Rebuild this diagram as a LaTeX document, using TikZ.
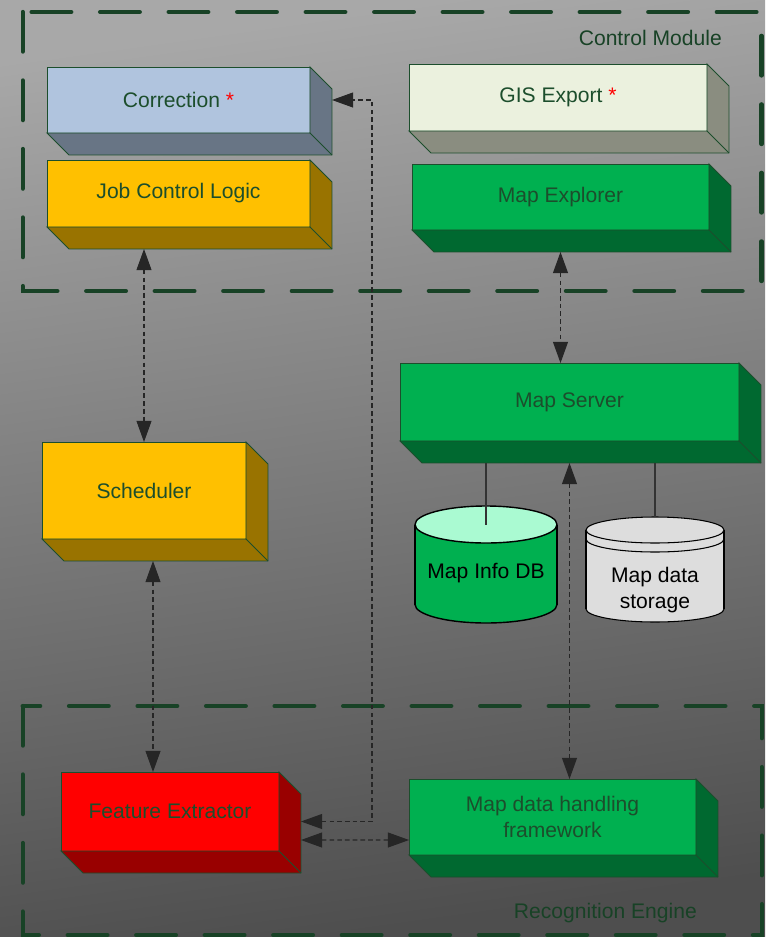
\documentclass[tikz,border=0pt]{standalone}
\usepackage{fontspec}
\setmainfont{Liberation Sans}
\usetikzlibrary{positioning, arrows.meta}

\definecolor{ink}{RGB}{28,78,44}
\definecolor{framegreen}{RGB}{24,66,38}
\definecolor{bgtop}{RGB}{168,168,168}
\definecolor{bgmid}{RGB}{148,148,148}
\definecolor{bgbot}{RGB}{78,78,78}
\definecolor{steelfront}{RGB}{176,196,222}
\definecolor{steelside}{RGB}{104,117,133}
\definecolor{paperfront}{RGB}{235,241,222}
\definecolor{paperside}{RGB}{138,141,128}
\definecolor{amberfront}{RGB}{255,192,0}
\definecolor{amberside}{RGB}{153,115,0}
\definecolor{leaffront}{RGB}{0,176,80}
\definecolor{leafside}{RGB}{0,105,48}
\definecolor{firefront}{RGB}{255,0,0}
\definecolor{fireside}{RGB}{153,0,0}
\definecolor{dbtop}{RGB}{170,250,210}
\definecolor{diskgray}{RGB}{221,221,221}

% bottom and right faces of a block
\newcommand{\extrude}[2]{%
  \draw[faceedge, fill=#2] (#1.south west) -- ([shift={(22,22)}]#1.south west)
    -- ([shift={(22,22)}]#1.south east) -- ([shift={(22,22)}]#1.north east)
    -- (#1.north east) -- (#1.south east) -- cycle;
  \draw[faceedge] (#1.south east) -- ([shift={(22,22)}]#1.south east);
  \coordinate (#1 bottom) at ([shift={(22,22)}]#1.south);
}

\begin{document}
\begin{tikzpicture}[x=0.02cm, y=-0.02cm,
    faceedge/.style={draw=ink, line width=0.5pt},
    block/.style={draw=ink, line width=0.5pt, inner sep=2pt, outer sep=0pt,
      text=ink, align=center, font=\fontsize{12}{14.4}\selectfont},
    tag/.style={text=framegreen, font=\fontsize{12}{14.4}\selectfont},
    disktext/.style={text=black, align=center, font=\fontsize{12}{14.4}\selectfont},
    module/.style={draw=framegreen, line width=2.5pt, line cap=round,
      dash pattern=on 22.5pt off 16.5pt},
    link/.style={<->, >={Triangle[length=12pt, width=8.5pt]}, draw=black!85,
      line width=0.6pt, dash pattern=on 2.6pt off 1.8pt},
    wire/.style={draw=black!80, line width=0.6pt}]

	\shade[top color=bgtop, middle color=bgmid, bottom color=bgbot, shading angle=8] (0,0) rectangle (765,937);
	\useasboundingbox (0,0) rectangle (765,937);

	% modules
	\draw[module] (22.7,12) rectangle (761.5,291);
	\draw[module] (22.7,706) rectangle (761.7,935);
	\node[tag, anchor=east] (ctrl) at (728,38) {Control Module};
	\node[tag, anchor=east] (recog) at (703,913) {Recognition Engine};

	% blocks
	\node[block, fill=steelfront, minimum width=5.26cm, minimum height=1.32cm] (corr) at (178.5,100) {Correction \textcolor{red}{*}};
	\node[block, fill=amberfront, minimum width=5.26cm, minimum height=1.34cm, below=0.54cm of corr] (jcl) {Job Control Logic};
	\node[block, fill=paperfront, minimum width=5.96cm, minimum height=1.34cm] (gis) at (558,97.5) {GIS Export \textcolor{red}{*}};
	\node[block, fill=leaffront, minimum width=5.94cm, minimum height=1.32cm, below=0.66cm of gis, xshift=0.05cm] (mapexp) {Map Explorer};
	\node[block, fill=leaffront, minimum width=6.78cm, minimum height=1.56cm] (mapsrv) at (569.5,402) {Map Server};
	\node[block, fill=amberfront, minimum width=4.08cm, minimum height=1.94cm] (sched) at (144,490.5) {Scheduler};
	\node[block, fill=firefront, minimum width=4.36cm, minimum height=1.58cm] (feat) at (170,811.5) {Feature Extractor};
	\node[block, fill=leaffront, minimum width=5.74cm, minimum height=1.52cm] (mdhf) at (552.5,817) {Map data handling\\framework};

	\extrude{corr}{steelside}
	\extrude{jcl}{amberside}
	\extrude{gis}{paperside}
	\extrude{mapexp}{leafside}
	\extrude{mapsrv}{leafside}
	\extrude{sched}{amberside}
	\extrude{feat}{fireside}
	\extrude{mdhf}{leafside}

	% Map Info DB
	\draw[line width=0.8pt, fill=leaffront] (486,604.5) ellipse [x radius=1.42cm, y radius=0.37cm];
	\fill[leaffront] (415,524.5) rectangle (557,604.5);
	\draw[line width=0.8pt] (415,524.5) -- (415,604.5) (557,524.5) -- (557,604.5);
	\draw[line width=0.8pt, fill=dbtop] (486,524.5) ellipse [x radius=1.42cm, y radius=0.37cm];
	\coordinate (db top) at (486,524.5);
	\node[disktext] (db) at (486,573) {Map Info DB};

	% Map data storage
	\draw[line width=0.6pt, fill=diskgray] (655,609) ellipse [x radius=1.38cm, y radius=0.26cm];
	\fill[diskgray] (586,530) rectangle (724,609);
	\draw[line width=0.6pt] (586,530) -- (586,609) (724,530) -- (724,609);
	\draw[line width=0.6pt, fill=diskgray] (655,530) ellipse [x radius=1.38cm, y radius=0.26cm];
	\draw[line width=0.6pt] (586,539) arc[start angle=180, end angle=360, x radius=1.38cm, y radius=0.26cm];
	\coordinate (store top) at (655,517);
	\node[disktext] (store) at (655,590) {Map data\\storage};

	\draw[wire] (db top) -- (db top |- mapsrv bottom);
	\draw[wire] (store top) -- (store top |- mapsrv bottom);

	% links
	\coordinate (bend) at (372,100);
	\draw[link] (sched.north |- jcl bottom) -- (sched.north);
	\draw[link] ([xshift=-0.34cm]feat.north |- sched bottom) -- ([xshift=-0.34cm]feat.north);
	\draw[link] (mapexp.south |- mapexp bottom) -- (mapexp.south |- mapsrv.north);
	\draw[link] (mapsrv.south |- mapsrv bottom) -- (mapsrv.south |- mdhf.north);
	\draw[link] ([shift={(22,10)}]feat.east) -| (bend) -- ([xshift=0.44cm]corr.east);
	\draw[link] ([shift={(22,28.5)}]feat.east) -- ([yshift=-0.46cm]mdhf.west);
\end{tikzpicture}
\end{document}
